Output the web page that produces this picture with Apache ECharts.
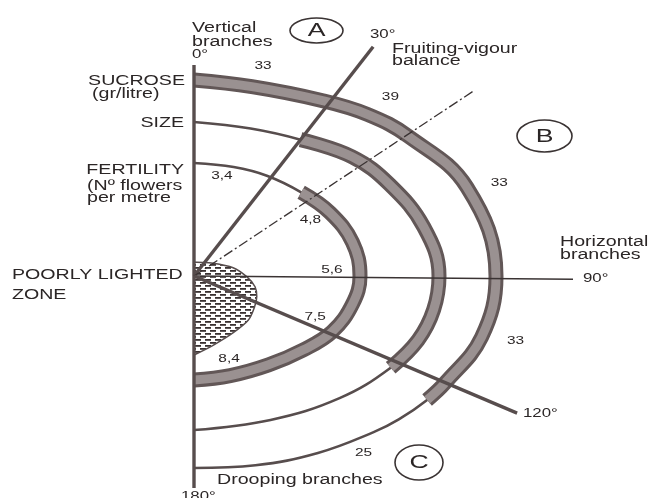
<!DOCTYPE html>
<html>
<head>
<meta charset="utf-8">
<script src="https://cdn.jsdelivr.net/npm/echarts@6/dist/echarts.min.js"></script>
<style>
html, body { margin: 0; padding: 0; background: #fff; }
#chart { width: 651px; height: 498px; }
</style>
</head>
<body>
<div id="chart"></div>
<script>
// readings: [angle (deg, clockwise from vertical), radius]
const sucrose = [[0, 196], [17, 198], [36, 217], [47, 237], [57, 256], [72, 287], [90, 302], [102, 294], [113, 273], [118, 264], [125, 250], [131, 238], [145, 216], [162, 199], [180, 192]];
const size = [[0, 154], [21, 158], [38, 173], [53, 198], [65, 216], [78, 235], [90, 245], [98, 242], [106, 233], [115, 217], [130, 190], [152, 163], [180, 154]];
const fertility = [[0, 113], [20, 116], [36, 124], [52, 136], [65, 150], [78, 162], [90, 166], [100, 161], [112, 149], [124, 132], [140, 116], [160, 106], [180, 104]];
const poorlyLighted = [[0, 14], [12, 14], [56, 23], [78, 40], [91, 53], [100, 62], [108, 66], [117, 68], [129, 70], [146, 69], [165, 72], [180, 79]];

// angle span where each curve is drawn as a thick band
const sucroseBand = [0, 118];
const sizeBand = [38, 115];
const fertilityBand = [52, 180];

// branch directions
const spokeNames = ['vertical', 'upper', 'fruiting', 'horizontal', 'lower', 'drooping'];
const spokeAngles = [0, 38, 56.5, 90.5, 113, 180];
const spokeLengths = [211, 291, 335, 379, 351, 212];

// values written along the curves
const valueTexts = ['33', '39', '33', '33', '25', '3,4', '4,8', '5,6', '7,5', '8,4'];
const valueAngles = [18.2, 47.6, 73.1, 101.4, 136.2, 15.6, 64.4, 87.5, 108.9, 157.1];
const valueRadii = [221, 266, 319, 328, 245, 104, 129, 138, 128, 90];

const ink = '#2b2626';
const lineInk = '#574d4d';
const bandEdge = '#625757';
const bandFill = '#9a9191';
const SX = 1.4;
const FONT = '"Liberation Sans", Arial, sans-serif';

function curve(pts) {
	return pts.map(p => [p[1], p[0]]);
}
function bandOf(pts, range) {
	return curve(pts.filter(p => p[0] >= range[0] && p[0] <= range[1]));
}

// hatch pattern for the poorly lighted zone
const hatch = document.createElement('canvas');
hatch.width = 10;
hatch.height = 6;
(function () {
	const ctx = hatch.getContext('2d');
	ctx.fillStyle = '#fff';
	ctx.fillRect(0, 0, 10, 6);
	ctx.fillStyle = '#3a3232';
	ctx.fillRect(0, 0, 6, 1.8);
	ctx.fillRect(5, 3, 5, 1.8);
	ctx.fillRect(0, 3, 1, 1.8);
})();

let series = [];

series.push({
	name: 'poorly lighted',
	type: 'line',
	coordinateSystem: 'polar',
	data: curve(poorlyLighted),
	smooth: 0.3,
	symbol: 'none',
	lineStyle: { color: lineInk, width: 1.5 },
	areaStyle: { color: { image: hatch, repeat: 'repeat' }, opacity: 1 },
});

[sucrose, size, fertility].forEach((pts, i) => {
	series.push({
		name: 'curve' + i,
		type: 'line',
		coordinateSystem: 'polar',
		data: curve(pts),
		smooth: 0.4,
		symbol: 'none',
		lineStyle: { color: lineInk, width: 2.6 },
	});
});

[[sucrose, sucroseBand], [size, sizeBand], [fertility, fertilityBand]].forEach((b, i) => {
	series.push({
		name: 'bandEdge' + i,
		type: 'line',
		coordinateSystem: 'polar',
		data: bandOf(b[0], b[1]),
		smooth: 0.4,
		symbol: 'none',
		lineStyle: { color: bandEdge, width: 15, cap: 'butt' },
	});
	series.push({
		name: 'bandFill' + i,
		type: 'line',
		coordinateSystem: 'polar',
		data: bandOf(b[0], b[1]),
		smooth: 0.4,
		symbol: 'none',
		lineStyle: { color: bandFill, width: 9, cap: 'butt' },
	});
});

spokeNames.forEach((name, i) => {
	let style = { color: lineInk, width: 3.4, cap: 'butt' };
	if (name === 'fruiting') style = { color: '#3a3333', width: 1.3, type: [10, 3, 2, 3] };
	if (name === 'horizontal') style = { color: '#3a3333', width: 1.4 };
	series.push({
		name: name,
		type: 'line',
		coordinateSystem: 'polar',
		data: [[0, spokeAngles[i]], [spokeLengths[i], spokeAngles[i]]],
		symbol: 'none',
		lineStyle: style,
	});
});

series.push({
	name: 'values',
	type: 'custom',
	coordinateSystem: 'polar',
	data: valueTexts.map((t, i) => [valueRadii[i], valueAngles[i]]),
	renderItem: function (params, api) {
		const p = api.coord([api.value(0), api.value(1)]);
		return {
			type: 'text',
			x: p[0],
			y: p[1],
			scaleX: SX,
			style: {
				text: valueTexts[params.dataIndex],
				font: '11px ' + FONT,
				fill: ink,
				align: 'center',
				verticalAlign: 'middle',
			},
		};
	},
});

function txt(text, x, y, size, align) {
	return {
		type: 'text',
		x: x,
		y: y,
		scaleX: SX,
		silent: true,
		style: {
			text: text,
			font: size + 'px ' + FONT,
			fill: ink,
			align: align || 'left',
			verticalAlign: 'middle',
		},
	};
}
function ring(cx, cy, rx, ry) {
	return {
		type: 'ellipse',
		silent: true,
		shape: { cx: cx, cy: cy, rx: rx, ry: ry },
		style: { fill: 'none', stroke: '#3a3333', lineWidth: 1.6 },
	};
}

const graphic = [
	txt('Vertical', 192, 28, 14),
	txt('branches', 192, 42, 14),
	txt('0°', 192, 54.5, 12),
	txt('SUCROSE', 185, 81, 14, 'right'),
	txt('(gr/litre)', 92, 94, 14),
	txt('SIZE', 184, 123.5, 14, 'right'),
	txt('FERTILITY', 184, 170.5, 14, 'right'),
	txt('(Nº flowers', 87, 186.5, 14),
	txt('per metre', 87, 198, 14),
	txt('POORLY LIGHTED', 12, 275, 14),
	txt('ZONE', 12, 295, 14),
	txt('Drooping branches', 217, 480, 14),
	txt('180°', 181, 497, 12),
	txt('30°', 370, 35, 12),
	txt('Fruiting-vigour', 392, 49.5, 14),
	txt('balance', 392, 61.5, 14),
	txt('Horizontal', 560, 242.5, 14),
	txt('branches', 560, 255.5, 14),
	txt('90°', 583, 279, 12),
	txt('120°', 523, 414, 12),
	ring(316.5, 30.5, 26.5, 12.5),
	txt('A', 316.5, 31, 19, 'center'),
	ring(544.5, 136, 27.5, 16),
	txt('B', 544.5, 136.5, 19, 'center'),
	ring(419, 462.5, 24, 17.5),
	txt('C', 419, 463, 19, 'center'),
];

const chart = echarts.init(document.getElementById('chart'));
chart.setOption({
	backgroundColor: '#fff',
	animation: false,
	polar: {
		center: [194, 276],
		radius: 400,
	},
	angleAxis: {
		type: 'value',
		min: 0,
		max: 360,
		startAngle: 90,
		clockwise: true,
		show: false,
	},
	radiusAxis: {
		type: 'value',
		min: 0,
		max: 400,
		show: false,
	},
	series: series,
	graphic: graphic,
});
</script>
</body>
</html>
